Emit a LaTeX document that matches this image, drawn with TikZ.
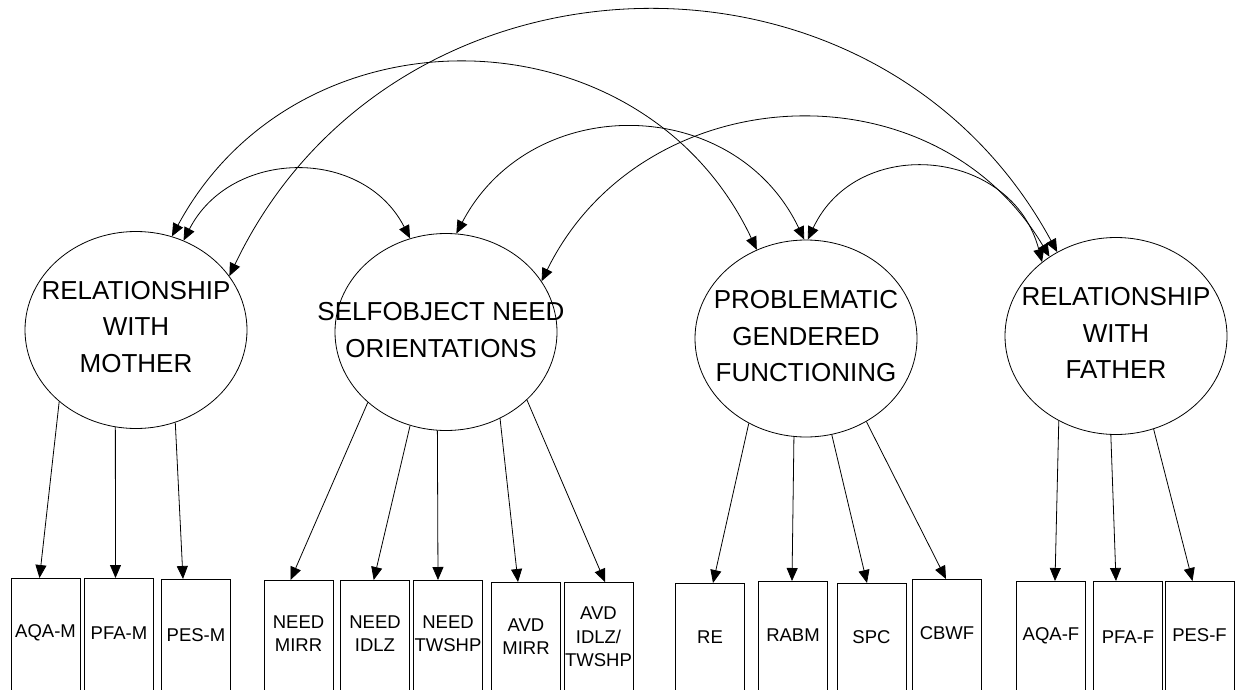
\documentclass[tikz,border=0pt]{standalone}
\usepackage{fontspec}
\setmainfont{Liberation Sans}
\usetikzlibrary{arrows.meta,shapes.geometric}

\tikzset{
  latent/.style={draw, ellipse, minimum width=222pt, minimum height=197pt,
                 inner sep=0pt, line width=0.8pt},
  latname/.style={font=\fontsize{26}{36.5}\selectfont, align=center},
  indic/.style={draw, rectangle, minimum width=69pt, minimum height=140pt,
                anchor=north, inner sep=0pt, line width=0.8pt},
  indname/.style={font=\fontsize{18.5}{23.5}\selectfont, align=center, inner sep=0pt},
  tip/.style={},
  load/.style={-{Triangle[length=13pt,width=11pt]}, line width=0.8pt},
  cov/.style={{Triangle[length=13pt,width=11pt]}-{Triangle[length=13pt,width=11pt]},
              line width=0.8pt},
}

\begin{document}
\begin{tikzpicture}[x=1pt, y=1pt]
  \useasboundingbox (0,0) rectangle (1239,-690);
  \clip (0,0) rectangle (1239,-690);

  % latent factors
  \node[latent, label={[latname, yshift=3pt]center:RELATIONSHIP\\WITH\\MOTHER}] (mother) at (136,-330) {};
  \node[latent, label={[latname, xshift=-5pt, yshift=2pt]center:SELFOBJECT NEED\\ORIENTATIONS}] (self) at (446,-332) {};
  \node[latent, label={[latname, yshift=2pt]center:PROBLEMATIC\\GENDERED\\FUNCTIONING}] (prob) at (806,-338.5) {};
  \node[latent, label={[latname, yshift=3pt]center:RELATIONSHIP\\WITH\\FATHER}] (father) at (1116,-336) {};

  % observed indicators
  \node[indic] (aqam) at (45.5,-578) {};
  \node[indname] (aqamT) at (45.5,-633) {AQA-M};
  \node[indic] (pfam) at (119,-578) {};
  \node[indname] (pfamT) at (119,-633) {PFA-M};
  \node[indic] (pesm) at (196,-579) {};
  \node[indname] (pesmT) at (196,-635) {PES-M};

  \node[indic] (nmirr) at (298.5,-580) {};
  \node[indname] (nmirrT) at (298.5,-633.5) {NEED\\MIRR};
  \node[indic] (nidlz) at (375,-580) {};
  \node[indname] (nidlzT) at (375,-633.5) {NEED\\IDLZ};
  \node[indic] (ntwshp) at (448,-580) {};
  \node[indname] (ntwshpT) at (448,-633.5) {NEED\\TWSHP};
  \node[indic] (amirr) at (526,-582) {};
  \node[indname] (amirrT) at (526,-636.5) {AVD\\MIRR};
  \node[indic] (aidlz) at (598.5,-582) {};
  \node[indname] (aidlzT) at (598.5,-637) {AVD\\IDLZ/\\TWSHP};

  \node[indic] (re) at (710,-583) {};
  \node[indname] (reT) at (710,-637) {RE};
  \node[indic] (rabm) at (793,-581) {};
  \node[indname] (rabmT) at (793,-635) {RABM};
  \node[indic] (spc) at (871.5,-583) {};
  \node[indname] (spcT) at (871.5,-637) {SPC};
  \node[indic] (cbwf) at (947,-579) {};
  \node[indname] (cbwfT) at (947,-633) {CBWF};

  \node[indic] (aqaf) at (1051,-581) {};
  \node[indname] (aqafT) at (1051,-636) {AQA-F};
  \node[indic] (pfaf) at (1128,-581) {};
  \node[indname] (pfafT) at (1128,-637) {PFA-F};
  \node[indic] (pesf) at (1199.5,-581) {};
  \node[indname] (pesfT) at (1199.5,-635) {PES-F};

  % factor loadings
  \draw[load] (mother.223.8) -- ([xshift=-6pt]aqam.north);
  \draw[load] (mother.258.7) -- ([xshift=-3.5pt]pfam.north);
  \draw[load] (mother.293.9) -- ([xshift=-13pt]pesm.north);

  \draw[load] (self.222.5) -- ([xshift=-8pt]nmirr.north);
  \draw[load] (self.249) -- ([xshift=-1.3pt]nidlz.north);
  \draw[load] (self.265.4) -- ([xshift=-10pt]ntwshp.north);
  \draw[load] (self.302.3) -- ([xshift=-8pt]amirr.north);
  \draw[load] (self.320.6) -- ([xshift=6.5pt]aidlz.north);

  \draw[load] (prob.236.4) -- ([xshift=3pt]re.north);
  \draw[load] (prob.263.5) -- ([xshift=-1pt]rabm.north);
  \draw[load] (prob.285.9) -- ([xshift=-4.5pt]spc.north);
  \draw[load] (prob.306.1) -- ([xshift=-1pt]cbwf.north);

  \draw[load] (father.236) -- ([xshift=4pt]aqaf.north);
  \draw[load] (father.267.1) -- ([xshift=-12pt]pfaf.north);
  \draw[load] (father.292.3) -- ([xshift=-7pt]pesf.north);

  % factor covariances
  \draw[cov] (mother.62.7) .. controls +(62.9:103.4) and +(117.1:103.4) .. (self.111.7);
  \draw[cov] (mother.69.2) .. controls +(61.7:267.9) and +(115.3:267.9) .. (prob.119.9);
  \draw[cov] (mother.30.3) .. controls +(64.5:378.2) and +(118.5:378.2) .. (father.125);
  \draw[cov] (self.84.8) .. controls +(62.3:161.5) and +(115.5:161.5) .. (prob.91);
  \draw[cov] (self.28.8) .. controls +(63.8:227.6) and +(120.8:227.6) .. (father.130);
  \draw[cov] (prob.89) .. controls +(64.9:117.5) and +(104.5:117.5) .. (father.135);
\end{tikzpicture}
\end{document}
